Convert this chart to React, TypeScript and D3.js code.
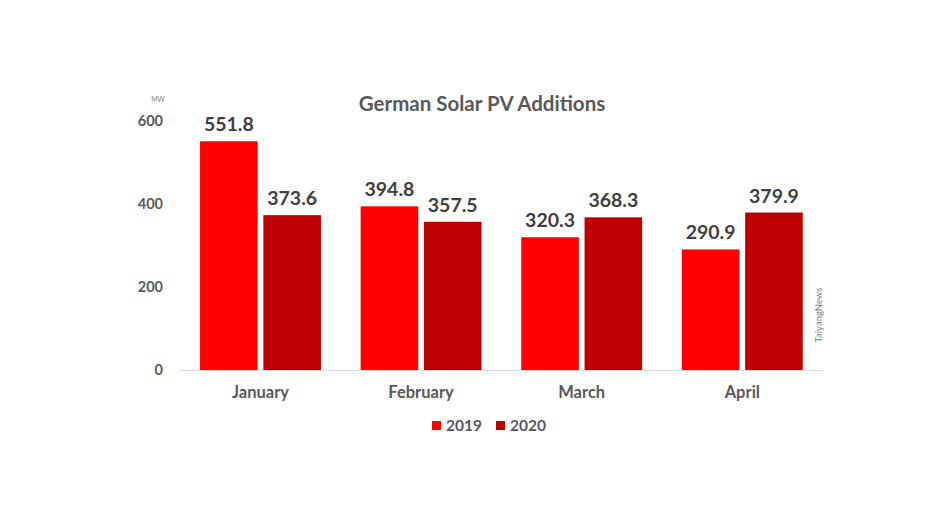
import React from "react";
import * as d3 from "d3";

const categories = ["January", "February", "March", "April"];
const seriesNames = ["2019", "2020"];
const values2019 = [551.8, 394.8, 320.3, 290.9];
const values2020 = [373.6, 357.5, 368.3, 379.9];
const yTicks = [0, 200, 400, 600];
const colors = ["#FF0000", "#C00000"];

const W = 944;
const H = 531;
const FONT = "Lato, 'Open Sans', sans-serif";

export default function App() {
  const x = d3.scaleBand<string>().domain(categories).range([180.2, 822.6]).paddingInner(0.247).paddingOuter(0.1235);
  const x1 = d3.scaleBand<string>().domain(seriesNames).range([0, x.bandwidth()]).paddingInner(0.09);
  const y = d3.scaleLinear().domain([0, 600]).range([370, 121.3]);
  const series = [values2019, values2020];

  return (
    <svg width={W} height={H} style={{ position: "absolute", left: 0, top: 0, background: "#fff" }}>
      <text x={482} y={111} textAnchor="middle" fontFamily={FONT} fontWeight={700} fontSize={20.5} fill="#595959">
        German Solar PV Additions
      </text>
      <text x={158} y={102} textAnchor="middle" fontFamily={FONT} fontSize={7} fill="#7f7f7f">MW</text>
      {yTicks.map((t) => (
        <text key={t} x={163} y={y(t)} dy="0.35em" textAnchor="end" fontFamily={FONT} fontWeight={700} fontSize={14.5} fill="#595959">
          {t}
        </text>
      ))}
      {categories.map((c, i) => (
        <g key={c} transform={`translate(${x(c)},0)`}>
          {series.map((vals, s) => (
            <g key={s}>
              <rect x={x1(seriesNames[s])} y={y(vals[i])} width={x1.bandwidth()} height={y(0) - y(vals[i])} fill={colors[s]} />
              <text x={(x1(seriesNames[s]) as number) + x1.bandwidth() / 2} y={y(vals[i]) - 10} textAnchor="middle" fontFamily={FONT} fontWeight={700} fontSize={19.5} fill="#404040">
                {vals[i].toFixed(1)}
              </text>
            </g>
          ))}
          <text x={x.bandwidth() / 2} y={398} textAnchor="middle" fontFamily={FONT} fontWeight={700} fontSize={16.5} fill="#595959">
            {c}
          </text>
        </g>
      ))}
      <line x1={180} x2={822.6} y1={370.5} y2={370.5} stroke="#d9d9d9" strokeWidth={1} />
      {seriesNames.map((n, s) => (
        <g key={n} transform={`translate(${432 + s * 64},421)`}>
          <rect x={0} y={0} width={9} height={9} fill={colors[s]} />
          <text x={14} y={4.5} dy="0.36em" fontFamily={FONT} fontWeight={700} fontSize={15.5} fill="#595959">{n}</text>
        </g>
      ))}
      <text transform="translate(822,315) rotate(-90)" textAnchor="middle" fontFamily={FONT} fontSize={9.5} fill="#7f7f7f">
        TaiyangNews
      </text>
    </svg>
  );
}
